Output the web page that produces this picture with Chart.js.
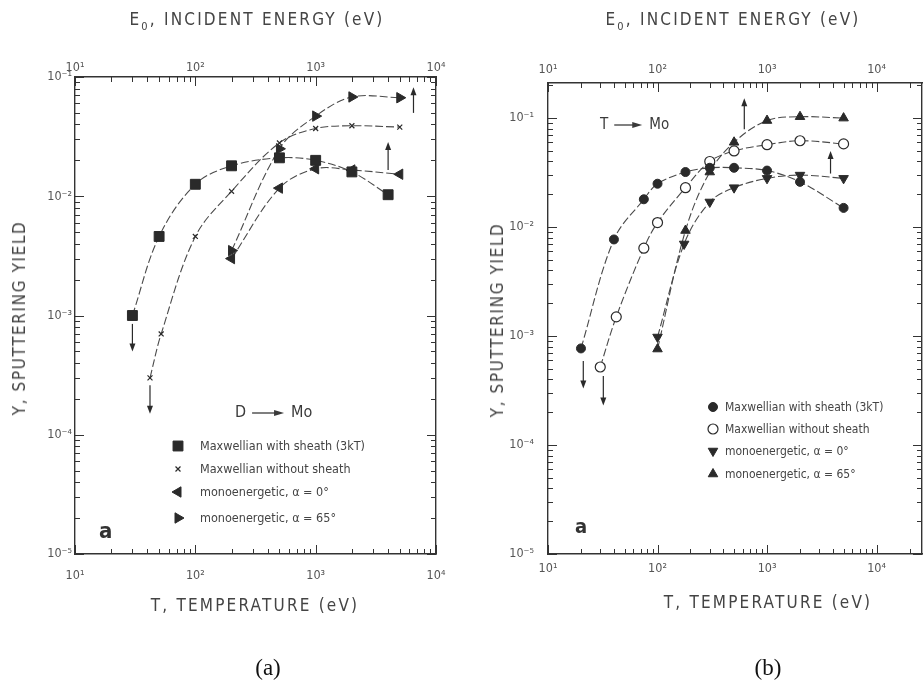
<!DOCTYPE html>
<html>
<head>
<meta charset="utf-8">
<script src="https://cdn.jsdelivr.net/npm/chart.js@4.4.1/dist/chart.umd.min.js"></script>
<style>
  body { margin: 0; background: #fff; }
  #page { position: relative; width: 924px; height: 687px; overflow: hidden; background: #fff;
          font-family: "DejaVu Sans Condensed", "DejaVu Sans", sans-serif; color: #444; }
  canvas { position: absolute; top: 0; }
  #chartA { left: 0; }
  #chartB { left: 462px; }
  .lbl { position: absolute; white-space: nowrap; transform: translate(-50%, -50%); font-size: 17px; letter-spacing: 2.2px; }
  .vert { transform: translate(-50%, -50%) rotate(-90deg); letter-spacing: 1.6px; }
  .cap { font-family: "Liberation Serif", serif; font-size: 23px; color: #111; letter-spacing: 0; }
</style>
</head>
<body>
<div id="page">
  <canvas id="chartA" width="462" height="687"></canvas>
  <canvas id="chartB" width="462" height="687"></canvas>

  <div class="lbl" style="left:257px;top:21px">E<sub style="font-size:11px">0</sub>, INCIDENT ENERGY (eV)</div>
  <div class="lbl" style="left:733px;top:21px">E<sub style="font-size:11px">0</sub>, INCIDENT ENERGY (eV)</div>
  <div class="lbl vert" style="left:19px;top:318px">Y, SPUTTERING YIELD</div>
  <div class="lbl vert" style="left:497px;top:320px">Y, SPUTTERING YIELD</div>
  <div class="lbl" style="left:255px;top:605px">T, TEMPERATURE (eV)</div>
  <div class="lbl" style="left:768px;top:602px">T, TEMPERATURE (eV)</div>
  <div class="lbl cap" style="left:268px;top:668px">(a)</div>
  <div class="lbl cap" style="left:768px;top:668px">(b)</div>
</div>

<script>
// ---- panel (a): D -> Mo ----
const tA_sheath   = [30, 50, 100, 200, 500, 1000, 2000, 4000];
const yA_sheath   = [1.0e-3, 4.6e-3, 0.0126, 0.018, 0.021, 0.020, 0.016, 0.0103];
const tA_noSheath = [42, 52, 100, 200, 500, 1000, 2000, 5000];
const yA_noSheath = [3.0e-4, 7.0e-4, 4.6e-3, 0.011, 0.028, 0.037, 0.039, 0.038];
const tA_mono0    = [200, 500, 1000, 2000, 5000];
const yA_mono0    = [3.0e-3, 0.0117, 0.017, 0.0166, 0.0153];
const tA_mono65   = [200, 500, 1000, 2000, 5000];
const yA_mono65   = [3.5e-3, 0.025, 0.047, 0.068, 0.067];
// arrows: [T, from Y, to Y]
const arrowsA = [[30, 8.5e-4, 5.0e-4], [42, 2.6e-4, 1.5e-4], [6500, 0.05, 0.082], [4000, 0.0166, 0.0285]];

// ---- panel (b): T -> Mo ----
const tB_sheath   = [20, 40, 75, 100, 180, 300, 500, 1000, 2000, 5000];
const yB_sheath   = [7.7e-4, 7.7e-3, 0.018, 0.025, 0.032, 0.035, 0.035, 0.033, 0.026, 0.015];
const tB_noSheath = [30, 42, 75, 100, 180, 300, 500, 1000, 2000, 5000];
const yB_noSheath = [5.2e-4, 1.5e-3, 6.4e-3, 0.011, 0.023, 0.040, 0.050, 0.057, 0.062, 0.058];
const tB_mono0    = [100, 175, 300, 500, 1000, 2000, 5000];
const yB_mono0    = [9.8e-4, 7.0e-3, 0.017, 0.023, 0.028, 0.030, 0.028];
const tB_mono65   = [100, 180, 300, 500, 1000, 2000, 5000];
const yB_mono65   = [7.6e-4, 9.3e-3, 0.032, 0.060, 0.095, 0.103, 0.100];
const arrowsB = [[21, 5.9e-4, 3.3e-4], [32, 4.3e-4, 2.3e-4], [620, 0.079, 0.152], [3800, 0.031, 0.05]];

// axis decades (exponents of ten) and legend text
const xExpA = [1, 2, 3, 4];
const yExpA = [-5, -4, -3, -2, -1];
const xExpB = [1, 2, 3, 4];
const yExpB = [-5, -4, -3, -2, -1];
const legendA = ['Maxwellian with sheath (3kT)', 'Maxwellian without sheath', 'monoenergetic, \u03b1 = 0\u00b0', 'monoenergetic, \u03b1 = 65\u00b0'];
const legendB = ['Maxwellian with sheath (3kT)', 'Maxwellian without sheath', 'monoenergetic, \u03b1 = 0\u00b0', 'monoenergetic, \u03b1 = 65\u00b0'];

const INK = '#2a2a2a';
const LINE = '#4a4a4a';
const FONT = '"DejaVu Sans Condensed", "DejaVu Sans", sans-serif';

const SUP = { '-': '\u207b', '0': '\u2070', '1': '\u00b9', '2': '\u00b2', '3': '\u00b3', '4': '\u2074', '5': '\u2075' };
const isPow10 = v => Math.abs(Math.log10(v) - Math.round(Math.log10(v))) < 1e-6;
const powLabel = v => isPow10(v) ? '10' + String(Math.round(Math.log10(v))).split('').map(c => SUP[c]).join('') : '';

// 1..9 x 10^n for every decade, clipped to the axis range
function logTicks(exps, min, max) {
  const out = [];
  exps.forEach(e => { for (let k = 1; k <= 9; k++) out.push(k * Math.pow(10, e)); });
  out.push(Math.pow(10, exps[exps.length - 1] + 1));
  return out.filter(v => v >= min * 0.999 && v <= max * 1.001);
}

function logAxis(axis, position, min, max, exps, fit, pad, showLabels) {
  return {
    type: 'logarithmic', axis, position, min, max,
    grid: { display: false, drawTicks: false },
    border: { display: true, color: '#333', width: 1.4 },
    afterBuildTicks: s => { s.ticks = logTicks(exps, min, max).map(v => ({ value: v })); },
    afterFit: s => { if (axis === 'x') s.height = fit; else s.width = fit; },
    ticks: {
      display: showLabels, autoSkip: false, maxRotation: 0, padding: pad,
      color: '#555', font: { family: FONT, size: 12.5 },
      callback: v => powLabel(v)
    }
  };
}

function series(xs, ys, style) {
  return Object.assign({
    data: xs.map((x, i) => ({ x, y: ys[i] })),
    showLine: true, borderColor: LINE, borderWidth: 1.1, borderDash: [8, 3], tension: 0.35,
    pointBackgroundColor: INK, pointBorderColor: INK, pointBorderWidth: 1
  }, style);
}

// inward tick marks on all four sides
const innerTicks = {
  id: 'innerTicks',
  afterDraw(chart) {
    const { ctx, chartArea: a } = chart;
    ctx.save();
    ctx.strokeStyle = '#333';
    ctx.lineWidth = 1;
    Object.values(chart.scales).forEach(s => {
      s.ticks.forEach(t => {
        const len = isPow10(t.value) ? 9 : 5;
        const p = Math.round(s.getPixelForValue(t.value)) + 0.5;
        ctx.beginPath();
        if (s.position === 'bottom') { ctx.moveTo(p, a.bottom); ctx.lineTo(p, a.bottom - len); }
        else if (s.position === 'top') { ctx.moveTo(p, a.top); ctx.lineTo(p, a.top + len); }
        else if (s.position === 'left') { ctx.moveTo(a.left, p); ctx.lineTo(a.left + len, p); }
        else { ctx.moveTo(a.right, p); ctx.lineTo(a.right - len, p); }
        ctx.stroke();
      });
    });
    ctx.restore();
  }
};

function arrowHead(ctx, x, y, dir) {
  ctx.beginPath();
  ctx.moveTo(x, y);
  ctx.lineTo(x - 3, y - dir * 8);
  ctx.lineTo(x + 3, y - dir * 8);
  ctx.closePath();
  ctx.fill();
}

// arrows, reaction label, panel letter and legend
function decor(p) {
  return {
    id: 'decor',
    afterDraw(chart) {
      const { ctx, chartArea: a } = chart;
      const xs = chart.scales.x, ys = chart.scales.y;
      ctx.save();
      ctx.strokeStyle = INK; ctx.fillStyle = INK; ctx.lineWidth = 1.2;
      p.arrows.forEach(([t, y0, y1]) => {
        const x = xs.getPixelForValue(t);
        const p0 = ys.getPixelForValue(y0), p1 = ys.getPixelForValue(y1);
        const dir = p1 > p0 ? 1 : -1;
        ctx.beginPath(); ctx.moveTo(x, p0); ctx.lineTo(x, p1 - dir * 6); ctx.stroke();
        arrowHead(ctx, x, p1, dir);
      });

      // reaction label
      const r = p.reaction;
      const ry = a.top + r.dy;
      ctx.font = r.size + 'px ' + FONT;
      ctx.textBaseline = 'middle';
      ctx.fillStyle = '#3a3a3a';
      ctx.fillText(r.from, a.left + r.dx, ry);
      const ax0 = a.left + r.dx + ctx.measureText(r.from).width + 6, ax1 = ax0 + r.len;
      ctx.beginPath(); ctx.moveTo(ax0, ry); ctx.lineTo(ax1 - 8, ry); ctx.stroke();
      ctx.beginPath();
      ctx.moveTo(ax1, ry); ctx.lineTo(ax1 - 10, ry - 3); ctx.lineTo(ax1 - 10, ry + 3);
      ctx.closePath(); ctx.fill();
      ctx.fillText(r.to, ax1 + 7, ry);

      // panel letter
      ctx.font = 'bold ' + p.letter.size + 'px ' + FONT;
      ctx.fillStyle = '#333';
      ctx.fillText('a', a.left + p.letter.dx, a.top + p.letter.dy);

      // legend
      const L = p.legend;
      chart.data.datasets.forEach((ds, i) => {
        const y = a.top + L.dy + L.rows[i];
        ctx.fillStyle = ds.pointBackgroundColor;
        ctx.strokeStyle = ds.pointBorderColor;
        ctx.lineWidth = ds.pointBorderWidth;
        Chart.helpers.drawPoint(ctx, {
          pointStyle: ds.pointStyle, rotation: ds.pointRotation || 0,
          radius: ds.pointRadius, borderWidth: ds.pointBorderWidth
        }, a.left + L.mx, y);
        ctx.font = L.size + 'px ' + FONT;
        ctx.fillStyle = '#444';
        ctx.fillText(L.text[i], a.left + L.tx, y + 1);
      });
      ctx.restore();
    }
  };
}

function panel(canvasId, p) {
  return new Chart(document.getElementById(canvasId), {
    type: 'scatter',
    data: { datasets: p.datasets },
    options: {
      responsive: false, animation: false,
      layout: { autoPadding: false, padding: p.padding },
      plugins: { legend: { display: false }, tooltip: { enabled: false } },
      scales: {
        x:  logAxis('x', 'bottom', p.xMin, p.xMax, p.xExp, 40, p.tickPad.bottom, true),
        x2: logAxis('x', 'top',    p.xMin, p.xMax, p.xExp, 30, p.tickPad.top, true),
        y:  logAxis('y', 'left',   p.yMin, p.yMax, p.yExp, 60, p.tickPad.left, true),
        y2: logAxis('y', 'right',  p.yMin, p.yMax, p.yExp, p.rightFit, 0, false)
      }
    },
    plugins: [innerTicks, decor(p)]
  });
}

panel('chartA', {
  xMin: 10, xMax: 1e4, yMin: 1e-5, yMax: 0.1, xExp: xExpA, yExp: yExpA,
  padding: { left: 15, right: 20, top: 47, bottom: 93 }, rightFit: 6,
  tickPad: { bottom: 14, top: 2, left: 3 },
  datasets: [
    series(tA_sheath, yA_sheath, { pointStyle: 'rect', pointRadius: 7 }),
    series(tA_noSheath, yA_noSheath, { pointStyle: 'crossRot', pointRadius: 3.5, pointBorderWidth: 1.2 }),
    series(tA_mono0, yA_mono0, { pointStyle: 'triangle', pointRotation: -90, pointRadius: 6 }),
    series(tA_mono65, yA_mono65, { pointStyle: 'triangle', pointRotation: 90, pointRadius: 6 })
  ],
  arrows: arrowsA,
  reaction: { from: 'D', to: 'Mo', size: 16, dx: 160, dy: 336, len: 32 },
  letter: { size: 22, dx: 24, dy: 455 },
  legend: { text: legendA, size: 12.5, dy: 369, rows: [0, 23, 46, 72], mx: 103, tx: 125 }
});

panel('chartB', {
  xMin: 10, xMax: 26000, yMin: 1e-5, yMax: 0.21, xExp: xExpB, yExp: yExpB,
  padding: { left: 26, right: 1, top: 53, bottom: 93 }, rightFit: 1,
  tickPad: { bottom: 7, top: 6, left: 14 },
  datasets: [
    series(tB_sheath, yB_sheath, { pointStyle: 'circle', pointRadius: 4.5 }),
    series(tB_noSheath, yB_noSheath, { pointStyle: 'circle', pointRadius: 5, pointBackgroundColor: '#fff', pointBorderWidth: 1.2 }),
    series(tB_mono0, yB_mono0, { pointStyle: 'triangle', pointRotation: 180, pointRadius: 5.5 }),
    series(tB_mono65, yB_mono65, { pointStyle: 'triangle', pointRotation: 0, pointRadius: 5.5 })
  ],
  arrows: arrowsB,
  reaction: { from: 'T', to: 'Mo', size: 15, dx: 52, dy: 42, len: 28 },
  letter: { size: 20, dx: 27, dy: 445 },
  legend: { text: legendB, size: 12, dy: 324, rows: [0, 22, 44, 67], mx: 165, tx: 177 }
});
</script>
</body>
</html>
